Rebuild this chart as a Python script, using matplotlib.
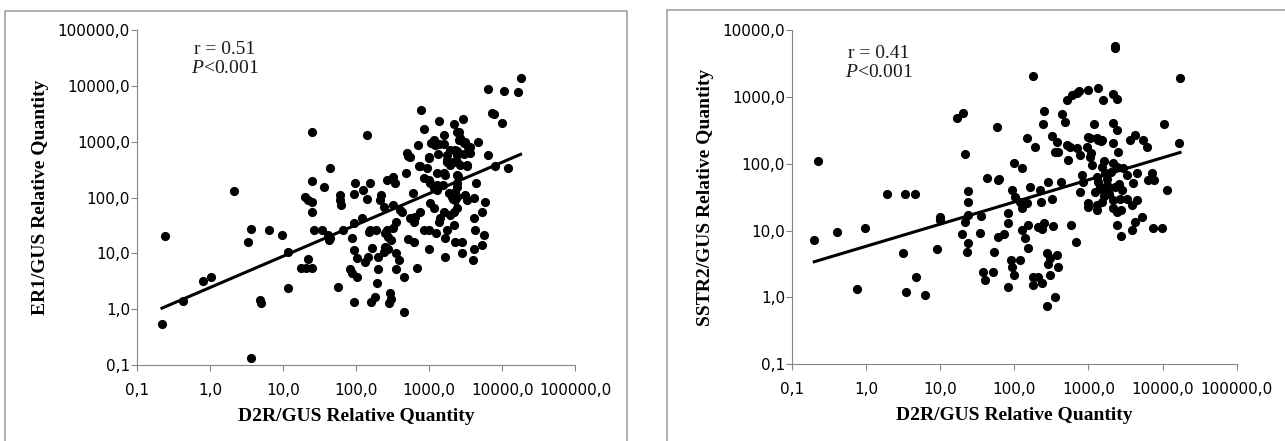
import matplotlib
matplotlib.use("Agg")
import matplotlib.pyplot as plt
from matplotlib.patches import Rectangle
from matplotlib.ticker import LogLocator, NullLocator, FuncFormatter
import numpy as np

plt.rcParams['font.family'] = ['DejaVu Sans']
plt.rcParams['mathtext.fontset'] = 'custom'
plt.rcParams['mathtext.rm'] = 'Liberation Serif'
plt.rcParams['mathtext.it'] = 'Liberation Serif:italic'

# D2R vs ER1 (relative quantities)
er1_x = [0.22, 0.24, 0.42, 0.79, 1.02, 2.1, 3.6, 3.35, 3.65, 4.9,
         5.0, 6.5, 9.6, 11.5, 11.5, 17.7, 22, 24.7, 20, 22,
         24.7, 24.7, 24.7, 24.7, 26.9, 36.8, 33.9, 41.7, 44, 42,
         20.5, 17800, 6370, 10600, 16600, 7230, 7700, 10000, 776, 1380,
         2890, 2200, 836, 140, 1570, 2390, 1150, 1210, 1050, 1350,
         1600, 713, 2660, 3110, 3650, 4590, 3650, 2270, 2390, 1750,
         1300, 980, 495, 515, 6300, 8020, 11800, 3280, 2390, 1750,
         1950, 736, 929, 1270, 1570, 2500, 484, 318, 268, 342,
         836, 980, 1030, 1150, 1270, 1530, 2390, 2390, 2270, 2050,
         2270, 2390, 2100, 3110, 3280, 4060, 4400, 5850, 4060, 4210,
         5270, 5550, 4060, 3970, 5270, 1600, 2200, 1420, 1360, 2200,
         1750, 1650, 2270, 2790, 2790, 1650, 1240, 980, 836, 1010,
         980, 678, 610, 515, 610, 630, 550, 750, 597, 401,
         420, 324, 356, 324, 264, 250, 275, 300, 250, 275,
         356, 240, 202, 164, 188, 156, 150, 120, 92, 87,
         92, 102, 133, 147, 202, 192, 182, 160, 92, 83,
         87, 104, 57, 292, 286, 300, 445, 356, 445, 380,
         44, 67, 60, 60, 62, 97, 94, 126, 140, 156,
         218, 211, 240, 2520, 2520, 2950, 3450, 1950, 2390, 2950,
         1750, 2100, 2630, 3280, 980, 750, 550, 1650, 1270, 2390,
         1150, 2400, 1900, 1850]
er1_y = [0.54, 20.5, 1.38, 3.2, 3.8, 131, 0.135, 16.2, 27, 1.46,
         1.3, 26, 21, 10.7, 2.4, 5.4, 7.9, 5.5, 104, 90,
         82, 55, 198, 1480, 26, 157, 26, 21, 335, 17.4,
         5.5, 14100, 8730, 8130, 7710, 3240, 3150, 2200, 3720, 2390,
         2560, 2060, 1690, 1290, 1320, 1460, 1080, 877, 950, 900,
         890, 877, 1160, 1000, 819, 1000, 622, 713, 580, 580,
         604, 541, 622, 560, 580, 373, 335, 384, 440, 440,
         384, 373, 335, 272, 272, 244, 272, 237, 207, 180,
         222, 207, 180, 147, 137, 168, 180, 157, 128, 104,
         90, 104, 95, 111, 90, 97, 180, 84.5, 42.6, 26,
         56, 21, 11.8, 7.6, 14.2, 56, 56, 42.6, 37, 32,
         26, 18.6, 16.2, 16.2, 10, 8.5, 22.9, 26, 26, 79,
         11.8, 5.4, 16.2, 17.8, 37, 45, 42.6, 56, 119, 60,
         55, 73.6, 37, 28, 26, 22.9, 20, 17.4, 13.2, 11.8,
         10, 10.5, 8.7, 12.3, 26, 26, 24, 42.6, 34.6, 18.6,
         11.5, 8.2, 7.1, 8.7, 5.2, 2.9, 1.67, 1.36, 1.36, 5.2,
         4.5, 3.7, 2.5, 1.93, 1.28, 1.5, 0.9, 5.2, 3.8, 7.6,
         18.6, 26, 111, 90, 73.6, 185, 115, 137, 93, 180,
         111, 90, 68.7, 1520, 1080, 940, 795, 713, 680, 600,
         470, 440, 384, 365, 500, 360, 541, 250, 170, 250,
         65, 65, 48, 120]

# D2R vs SSTR2 (relative quantities)
sstr2_x = [0.2, 0.226, 0.40, 0.75, 0.975, 1.93, 3.18, 3.38, 3.4, 4.6,
           4.75, 6.2, 9.1, 9.8, 9.9, 16.7, 20.5, 21.6, 19.5, 22.8,
           21.6, 23.9, 23.9, 23.5, 23.9, 2290, 2300, 181, 17200, 509,
           596, 697, 754, 1000, 1360, 1590, 2130, 2450, 254, 242,
           437, 483, 58, 1190, 2170, 2410, 10500, 16400, 320, 147,
           190, 373, 393, 509, 565, 697, 948, 1000, 1300, 1510,
           2130, 3640, 4250, 5400, 6120, 535, 771, 1050, 1110, 813,
           853, 771, 1510, 1680, 2170, 2410, 2960, 3280, 4490, 4040,
           7140, 6430, 7670, 11400, 1300, 1360, 1230, 1440, 1770, 1590,
           1860, 1510, 1300, 1300, 1000, 1000, 2170, 2170, 2410, 2710,
           2630, 3280, 3840, 4490, 3840, 4250, 5240, 7510, 9750, 2410,
           2750, 577, 681, 423, 320, 288, 222, 227, 163, 147,
           119, 126, 102, 92, 100, 126, 61, 62, 43, 83,
           83, 73, 61, 53, 35, 34, 155, 126, 139, 155,
           211, 254, 336, 90, 92, 100, 119, 38, 40, 52,
           83, 181, 181, 211, 234, 303, 274, 303, 288, 373,
           393, 354, 279, 1800, 2000, 2600, 1900, 2300, 2800, 1600,
           354, 234, 1050, 1360, 1460, 2500, 1600, 1080]
sstr2_y = [7.2, 109, 9.4, 1.32, 11, 35, 4.6, 35, 1.22, 35,
           2.04, 1.09, 5.25, 16, 14.4, 488, 568, 140, 8.8, 4.8,
           13.6, 39, 27, 17.1, 6.6, 5320, 5700, 2050, 1900, 897,
           1070, 1150, 1220, 1270, 1340, 897, 1100, 930, 621, 389,
           548, 425, 358, 393, 403, 319, 389, 202, 260, 245,
           180, 213, 151, 190, 180, 170, 180, 248, 240, 226,
           206, 226, 269, 226, 180, 114, 135, 127, 96, 68,
           54, 38, 90, 72, 101, 90, 85, 68, 72, 52,
           72, 57, 57, 41, 64, 54, 38, 45, 48, 40,
           38, 27, 24, 20.3, 26, 22.8, 28.6, 21.5, 19.1, 20.3,
           30, 30, 24, 28.6, 10.2, 13.6, 16.1, 10.8, 10.8, 12.1,
           8.3, 12.1, 6.8, 54, 29.6, 54, 41, 27, 45, 25.6,
           27, 21.5, 32, 40, 101, 85, 57, 60, 62, 18.1,
           12.9, 8.8, 8.1, 4.8, 16.5, 9.1, 12.1, 10.2, 7.7, 5.5,
           11.4, 13.1, 11.8, 3.6, 2.9, 2.17, 3.6, 2.43, 1.82, 2.43,
           1.45, 2.04, 1.53, 2.04, 1.63, 2.17, 4.6, 3.85, 3.2, 4.3,
           2.9, 1.03, 0.75, 60, 75, 50, 35, 45, 40, 33,
           150, 10.5, 240, 226, 215, 150, 110, 145]

x_label = 'D2R/GUS Relative Quantity'
y_labels = ['ER1/GUS Relative Quantity', 'SSTR2/GUS Relative Quantity']
r_values = ['0.51', '0.41']
y_limits = [(0.1, 100000), (0.1, 10000)]

fig = plt.figure(figsize=(12.85, 4.41), dpi=100)

# chart area borders
fig.add_artist(Rectangle((5 / 1285, -0.1), 622 / 1285, 1.1 - 11 / 441,
                         transform=fig.transFigure, fill=False,
                         edgecolor='#9a9a9a', linewidth=1.1))
fig.add_artist(Rectangle((667 / 1285, -0.1), 0.6, 1.1 - 10 / 441,
                         transform=fig.transFigure, fill=False,
                         edgecolor='#9a9a9a', linewidth=1.1))

ax1 = fig.add_axes([137 / 1285, 1 - 365 / 441, 438.3 / 1285, 335 / 441])
ax2 = fig.add_axes([792 / 1285, 1 - 364.3 / 441, 444.7 / 1285, 334.3 / 441])

fmt = FuncFormatter(lambda v, p: f'{v:.1f}'.replace('.', ','))

datasets = [(er1_x, er1_y), (sstr2_x, sstr2_y)]
for i, ax in enumerate([ax1, ax2]):
    x = np.array(datasets[i][0])
    y = np.array(datasets[i][1])

    ax.plot(x, y, 'o', color='black', markersize=6.6, markeredgewidth=0)

    # power trend line (linear fit in log-log space)
    slope, icpt = np.polyfit(np.log10(x), np.log10(y), 1)
    xs = np.array([x.min(), x.max()])
    ax.plot(xs, 10 ** (icpt + slope * np.log10(xs)), color='black', linewidth=2.2)

    ax.set_xscale('log')
    ax.set_yscale('log')
    ax.set_xlim(0.1, 100000)
    ax.set_ylim(*y_limits[i])
    for axis in [ax.xaxis, ax.yaxis]:
        axis.set_major_locator(LogLocator(base=10, numticks=12))
        axis.set_minor_locator(NullLocator())
        axis.set_major_formatter(fmt)

    for s in ['top', 'right']:
        ax.spines[s].set_visible(False)
    for s in ['left', 'bottom']:
        ax.spines[s].set_color('#868686')
        ax.spines[s].set_linewidth(0.8)
    ax.tick_params(axis='both', colors='#868686', labelcolor='black',
                   labelsize=11, length=4, width=0.8, direction='out')
    ax.tick_params(axis='x', pad=9)
    ax.tick_params(axis='y', pad=1)

    ax.set_xlabel(x_label, family='Liberation Serif', fontweight='bold',
                  fontsize=14, labelpad=7)
    ax.set_ylabel(y_labels[i], family='Liberation Serif', fontweight='bold',
                  fontsize=14, labelpad=6)

    ax.text(0.2 if i == 0 else 0.196, 0.914 if i == 0 else 0.900,
            f'r = {r_values[i]}\n' + r'$\mathit{P}$<0.001',
            transform=ax.transAxes, ha='center', va='center',
            family='Liberation Serif', fontsize=14, color='#1a1a1a',
            linespacing=1.15)

fig.savefig('out.png', dpi=100, facecolor='white')
